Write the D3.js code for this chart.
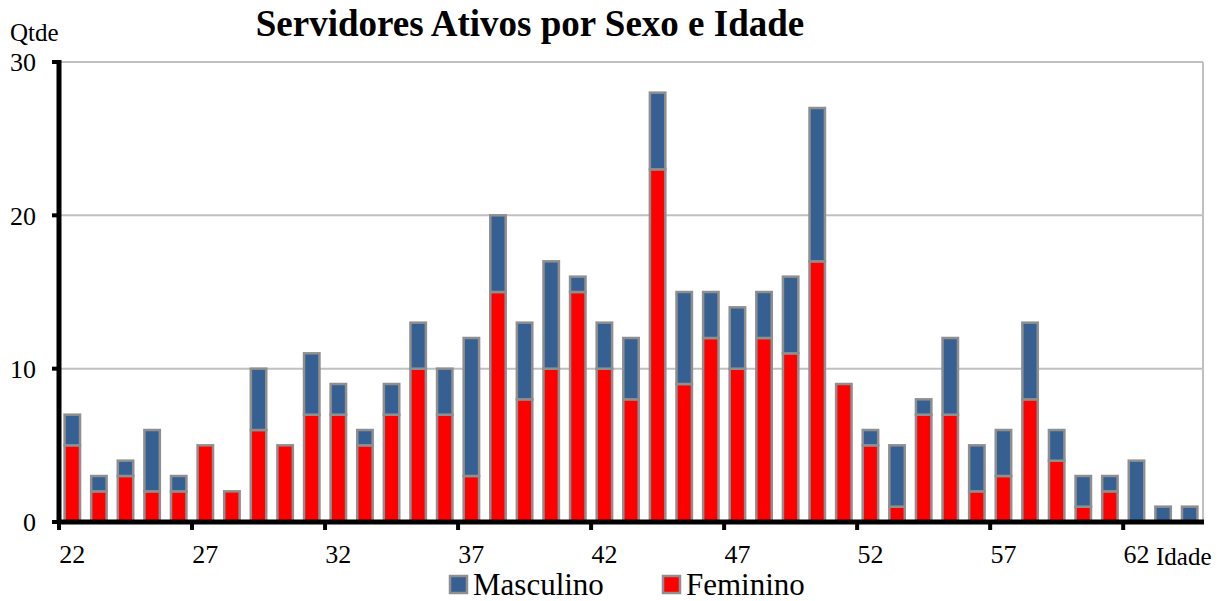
<!DOCTYPE html>
<html lang="pt">
<head>
<meta charset="UTF-8">
<title>Servidores Ativos por Sexo e Idade</title>
<script src="https://d3js.org/d3.v7.min.js"></script>
<style type="text/css">
    body { margin: 0; background: #fff; }
    text { font-family: "Liberation Serif", "Times New Roman", serif; fill: #000; }
</style>
</head>
<body>
<script type="text/javascript">

const ages = d3.range(22, 65);
const feminino = [5, 2, 3, 2, 2, 5, 2, 6, 5, 7, 7, 5, 7, 10, 7, 3, 15, 8, 10, 15, 10, 8, 23, 9, 12, 10, 12, 11, 17, 9, 5, 1, 7, 7, 2, 3, 8, 4, 1, 2, 0, 0, 0];
const masculino = [2, 1, 1, 4, 1, 0, 0, 4, 0, 4, 2, 1, 2, 3, 3, 9, 5, 5, 7, 1, 3, 4, 5, 6, 3, 4, 3, 5, 10, 0, 1, 4, 1, 5, 3, 3, 5, 2, 2, 1, 4, 1, 1];
const yTicks = [0, 10, 20, 30];
const xLabelAges = [22, 27, 32, 37, 42, 47, 52, 57, 62];

const colors = { Feminino: "#ff0000", Masculino: "#376092" };

const width = 1229, height = 601;
const plotLeft = 59, plotRight = 1203, plotTop = 62, plotBottom = 522;

const svg = d3.select("body").append("svg")
    .attr("width", width)
    .attr("height", height);

const x = d3.scaleBand()
    .domain(ages)
    .range([plotLeft, plotRight])
    .paddingInner(0.42)
    .paddingOuter(0.21);

const y = d3.scaleLinear()
    .domain([0, 30])
    .range([plotBottom, plotTop]);

// gridlines
svg.selectAll(".grid")
    .data(yTicks.slice(1))
    .enter().append("line")
    .attr("x1", plotLeft).attr("x2", plotRight)
    .attr("y1", d => y(d)).attr("y2", d => y(d))
    .attr("stroke", "#c0c0c0")
    .attr("stroke-width", 2);

// right border of plot area
svg.append("line")
    .attr("x1", plotRight).attr("x2", plotRight)
    .attr("y1", plotTop).attr("y2", plotBottom)
    .attr("stroke", "#c0c0c0")
    .attr("stroke-width", 2);

// stacked bars
const rows = ages.map((a, i) => ({ age: a, Feminino: feminino[i], Masculino: masculino[i] }));
const stack = d3.stack().keys(["Feminino", "Masculino"])(rows);

svg.selectAll(".series")
    .data(stack)
    .enter().append("g")
    .attr("fill", d => colors[d.key])
    .selectAll("rect")
    .data(d => d.filter(s => s[1] > s[0]))
    .enter().append("rect")
    .attr("x", d => x(d.data.age))
    .attr("y", d => y(d[1]))
    .attr("width", x.bandwidth())
    .attr("height", d => y(d[0]) - y(d[1]))
    .attr("stroke", "#8f8f8f")
    .attr("stroke-width", 2.5);

// y axis
const yAxis = svg.append("g");
yAxis.append("line")
    .attr("x1", plotLeft).attr("x2", plotLeft)
    .attr("y1", plotTop - 2).attr("y2", plotBottom + 2)
    .attr("stroke", "#000").attr("stroke-width", 5);
yAxis.selectAll(".ytick")
    .data(yTicks)
    .enter().append("line")
    .attr("x1", 52).attr("x2", plotLeft)
    .attr("y1", d => y(d)).attr("y2", d => y(d))
    .attr("stroke", "#000").attr("stroke-width", 4);
yAxis.selectAll(".ylab")
    .data(yTicks)
    .enter().append("text")
    .attr("x", 36)
    .attr("y", d => y(d))
    .attr("dy", "0.36em")
    .attr("text-anchor", "end")
    .style("font-size", "26px")
    .text(d => d);

// x axis
const xAxis = svg.append("g");
xAxis.append("line")
    .attr("x1", plotLeft - 2).attr("x2", plotRight + 1)
    .attr("y1", plotBottom).attr("y2", plotBottom)
    .attr("stroke", "#000").attr("stroke-width", 5);
xAxis.selectAll(".xtick")
    .data(xLabelAges)
    .enter().append("line")
    .attr("x1", d => x(d) - x.step() * x.paddingInner() / 2)
    .attr("x2", d => x(d) - x.step() * x.paddingInner() / 2)
    .attr("y1", plotBottom).attr("y2", plotBottom + 8)
    .attr("stroke", "#000").attr("stroke-width", 4);
xAxis.selectAll(".xlab")
    .data(xLabelAges)
    .enter().append("text")
    .attr("x", d => x(d) + x.bandwidth() / 2)
    .attr("y", 563)
    .attr("text-anchor", "middle")
    .style("font-size", "26px")
    .text(d => d);

// titles
svg.append("text")
    .attr("x", 530).attr("y", 36)
    .attr("text-anchor", "middle")
    .style("font-size", "37px")
    .style("font-weight", "bold")
    .text("Servidores Ativos por Sexo e Idade");

svg.append("text")
    .attr("x", 10).attr("y", 41)
    .style("font-size", "25px")
    .text("Qtde");

svg.append("text")
    .attr("x", 1156).attr("y", 565)
    .style("font-size", "25px")
    .text("Idade");

// legend
const legend = [
    { key: "Masculino", x: 449 },
    { key: "Feminino", x: 662 }
];
const lg = svg.selectAll(".legend")
    .data(legend)
    .enter().append("g")
    .attr("transform", d => `translate(${d.x},575)`);
lg.append("rect")
    .attr("x", 1).attr("y", 1)
    .attr("width", 17).attr("height", 17)
    .attr("fill", d => colors[d.key])
    .attr("stroke", "#8f8f8f")
    .attr("stroke-width", 2.5);
lg.append("text")
    .attr("x", 24).attr("y", 20)
    .style("font-size", "31px")
    .text(d => d.key);

</script>
</body>
</html>
